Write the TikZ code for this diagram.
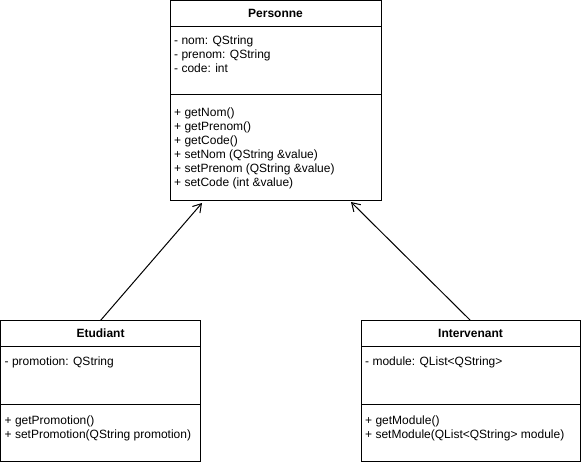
\documentclass[tikz,border=0pt]{standalone}
\usepackage{fontspec}
\setmainfont{Liberation Sans}
\usepackage{tikz}
\usetikzlibrary{arrows.meta,positioning}
\tikzset{part/.style={rectangle,draw=black,line width=1pt,inner sep=0pt,outer sep=0pt},title/.style={part,minimum height=26pt,font=\fontsize{12}{14}\selectfont\bfseries},members/.style={anchor=north west,align=left,inner xsep=4pt,inner ysep=9pt},inherit/.style={-{Straight Barb[length=8pt,width=10pt]},line width=1pt}}

\begin{document}
\begin{tikzpicture} [x=1pt,y=-1pt,font=\fontsize{12}{14}\selectfont]
\useasboundingbox (0,0) rectangle (581,464);
%personne
\node (pers) at (275.5,13.5)[title,minimum width=211pt]{Personne};
\node (persattr) [part,minimum width=211pt,minimum height=68pt,below=0pt of pers]{};
\node (persmeth) [part,minimum width=211pt,minimum height=106pt,below=0pt of persattr]{};
\node (persa) at (persattr.north west)[members]{- nom: QString\\- prenom: QString\\- code: int};
\node (persm) at (persmeth.north west)[members,yshift=-4.5pt]{+ getNom()\\+ getPrenom()\\+ getCode()\\+ setNom (QString \&value)\\+ setPrenom (QString \&value)\\+ setCode (int \&value)};

%etudiant
\node (etud) at (100.5,333.5)[title,minimum width=200pt]{Etudiant};
\node (etudattr) [part,minimum width=200pt,minimum height=58pt,below=0pt of etud]{};
\node (etudmeth) [part,minimum width=200pt,minimum height=57pt,below=0pt of etudattr]{};
\node (etuda) at (etudattr.north west)[members,yshift=-1.5pt]{- promotion: QString};
\node (etudm) at (etudmeth.north west)[members,yshift=-2.5pt]{+ getPromotion()\\+ setPromotion(QString promotion)};

%intervenant
\node (interv) at (470.5,333.5)[title,minimum width=219pt]{Intervenant};
\node (intervattr) [part,minimum width=219pt,minimum height=58pt,below=0pt of interv]{};
\node (intervmeth) [part,minimum width=219pt,minimum height=57pt,below=0pt of intervattr]{};
\node (interva) at (intervattr.north west)[members,yshift=-1.5pt]{- module: QList<QString>};
\node (intervm) at (intervmeth.north west)[members,yshift=-2.5pt]{+ getModule()\\+ setModule(QList<QString> module)};

%inheritance
\coordinate (tipl) at (202,203);
\coordinate (tipr) at (351,202);
\draw [inherit] (etud.north) -- (tipl);
\draw [inherit] (interv.north) -- (tipr);
\end{tikzpicture}
\end{document}
